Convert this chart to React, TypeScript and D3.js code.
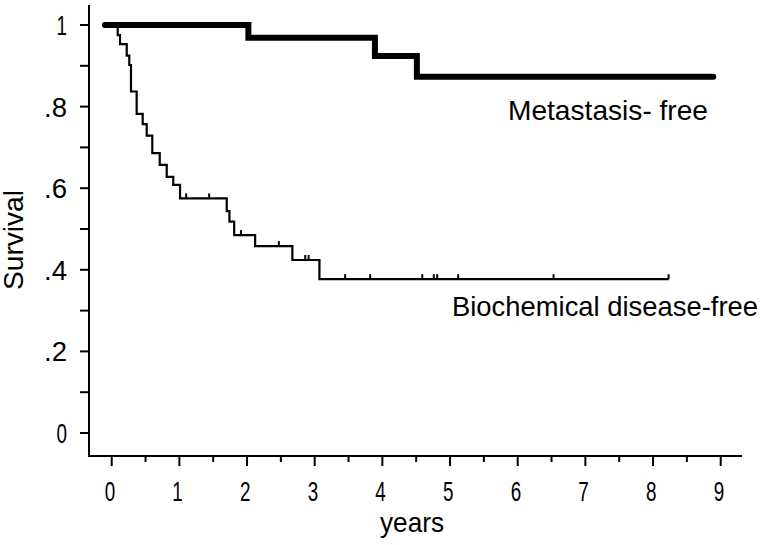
import React from "react";
import * as d3 from "d3";

// Metastasis-free survival (step after each time)
const metTimes = [-0.1, 2.02, 3.89, 4.51, 8.89];
const metSurv = [1, 0.969, 0.924, 0.873, 0.873];

// Biochemical disease-free survival
const bioTimes = [0, 0.089, 0.123, 0.222, 0.26, 0.285, 0.369, 0.458, 0.517, 0.6, 0.71, 0.813, 0.91, 1.01, 1.7, 1.74, 1.81, 2.12, 2.67, 3.07, 8.23];
const bioSurv = [1, 0.975, 0.953, 0.925, 0.902, 0.837, 0.782, 0.757, 0.729, 0.686, 0.657, 0.628, 0.608, 0.575, 0.544, 0.518, 0.485, 0.458, 0.424, 0.377, 0.377];
const bioCensors = [1.1, 1.44, 1.91, 2.47, 2.86, 2.91, 3.45, 3.82, 4.59, 4.76, 4.81, 5.12, 6.53, 8.23];

const xTickLabels = ["0", "1", "2", "3", "4", "5", "6", "7", "8", "9"];
const yTickValues = [0, 0.2, 0.4, 0.6, 0.8, 1];
const yTickLabels = ["0", ".2", ".4", ".6", ".8", "1"];

const FONT = "'Liberation Sans', Arial, sans-serif";

export default function App() {
  const x = d3.scaleLinear().domain([0, 9]).range([111.7, 720.7]);
  const y = d3.scaleLinear().domain([0, 1]).range([433, 25]);

  const line = d3
    .line<[number, number]>()
    .x((d) => x(d[0]))
    .y((d) => y(d[1]))
    .curve(d3.curveStepAfter);

  const metPts: [number, number][] = metTimes.map((t, i) => [t, metSurv[i]]);
  const bioPts: [number, number][] = bioTimes.map((t, i) => [t, bioSurv[i]]);

  const survAt = (t: number) => {
    let s = bioSurv[0];
    for (let i = 0; i < bioTimes.length; i++) if (bioTimes[i] <= t) s = bioSurv[i];
    return s;
  };

  const minorY = d3.range(0, 11).map((i) => i / 10);
  const xTicks = d3.range(0, 19).map((i) => i / 2);

  return (
    <svg width={760} height={545} style={{ position: "absolute", left: 0, top: 0, background: "#fff" }}>
      <rect width={760} height={545} fill="#fff" />
      {/* axes */}
      <line x1={89} y1={5} x2={89} y2={457} stroke="#000" strokeWidth={2} />
      <line x1={88} y1={456} x2={742} y2={456} stroke="#000" strokeWidth={2} />
      {minorY.map((v) => (
        <line key={"yt" + v} x1={80} x2={89} y1={y(v)} y2={y(v)} stroke="#000" strokeWidth={2} />
      ))}
      {xTicks.map((v) => (
        <line key={"xt" + v} x1={x(v)} x2={x(v)} y1={456} y2={Number.isInteger(v) ? 466 : 462} stroke="#000" strokeWidth={2} />
      ))}
      {yTickValues.map((v, i) => (
        <text
          key={"yl" + v}
          x={67}
          y={y(v) + 10}
          textAnchor="end"
          fontFamily={FONT}
          fontSize={27}
          textLength={yTickLabels[i].length === 1 ? 10.5 : 23}
          lengthAdjust="spacingAndGlyphs"
        >
          {yTickLabels[i]}
        </text>
      ))}
      {xTickLabels.map((l, i) => (
        <text
          key={"xl" + l}
          x={x(i) - 7}
          y={501}
          fontFamily={FONT}
          fontSize={27}
          textLength={10.5}
          lengthAdjust="spacingAndGlyphs"
        >
          {l}
        </text>
      ))}
      <text x={380} y={532} fontFamily={FONT} fontSize={28} textLength={64} lengthAdjust="spacingAndGlyphs">
        years
      </text>
      <text
        transform="translate(23,290) rotate(-90)"
        fontFamily={FONT}
        fontSize={28}
        textLength={100}
        lengthAdjust="spacingAndGlyphs"
      >
        Survival
      </text>
      {/* curves */}
      <path d={line(bioPts) || ""} fill="none" stroke="#000" strokeWidth={2.2} />
      {bioCensors.map((t, i) => (
        <line key={"c" + i} x1={x(t)} x2={x(t)} y1={y(survAt(t))} y2={y(survAt(t)) - 5} stroke="#000" strokeWidth={2} />
      ))}
      <path d={line(metPts) || ""} fill="none" stroke="#000" strokeWidth={6} strokeLinecap="round" />
      <text x={508} y={120} fontFamily={FONT} fontSize={28} textLength={200} lengthAdjust="spacingAndGlyphs">
        Metastasis- free
      </text>
      <text x={452} y={316} fontFamily={FONT} fontSize={28.5} textLength={306} lengthAdjust="spacingAndGlyphs">
        Biochemical disease-free
      </text>
    </svg>
  );
}
